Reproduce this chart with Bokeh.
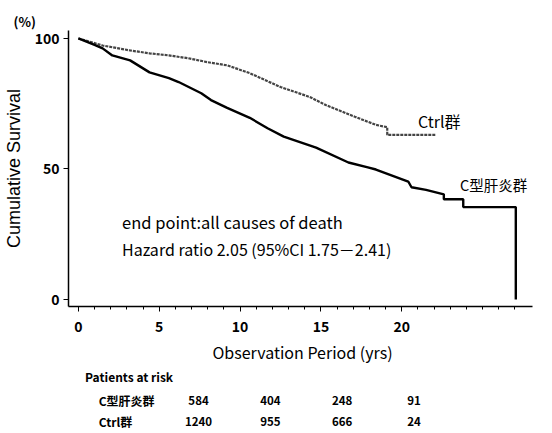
from bokeh.plotting import figure
from bokeh.layouts import column
from bokeh.models import FixedTicker, Label, Range1d, ColumnDataSource
from bokeh.core.properties import value
from bokeh.embed import file_html
from bokeh.resources import INLINE

# Kaplan-Meier readings (years, % surviving)
c_time = [0, 1.0, 1.5, 2.1, 3.2, 4.4, 5.6, 6.2, 7.6, 8.2, 9.2, 10.6, 11.7, 12.7,
          14.7, 16.7, 17.9, 18.4, 20.4, 20.6, 21.5, 22.6, 22.6, 23.8, 23.8, 27.05, 27.05]
c_surv = [100, 97.5, 96.2, 93.5, 91.6, 87.0, 84.8, 83.3, 79.0, 76.4, 73.4, 69.6, 65.6, 62.4,
          58.2, 52.5, 50.6, 49.8, 45.2, 43.0, 42.0, 40.3, 38.4, 38.4, 35.4, 35.4, 0]
ctrl_time = [0, 1.5, 3.2, 4.4, 5.6, 6.8, 8.0, 9.2, 10.6, 12.5, 14.3, 15.3, 17.1, 18.4,
             19.1, 19.1, 22.1]
ctrl_surv = [100, 97.3, 95.4, 94.3, 93.5, 92.4, 90.9, 89.7, 86.7, 81.4, 77.6, 74.5, 70.0, 66.9,
             66.0, 63.1, 63.1]

x_ticks = [0, 5, 10, 15, 20]
x_minor = list(range(0, 28))
y_ticks = [0, 50, 100]
risk_years = [5, 10, 15, 20]
risk_c = ["584", "404", "248", "91"]
risk_ctrl = ["1240", "955", "666", "24"]
group_c = "C型肝炎群"
group_ctrl = "Ctrl群"

FONT = "'Noto Sans CJK JP', 'Noto Sans', sans-serif"

p = figure(width=536, height=366, output_backend="svg", toolbar_location=None,
           x_range=Range1d(-0.61, 28.33), y_range=Range1d(-2.66, 103.04),
           min_border_left=60, min_border_right=0, min_border_top=30, min_border_bottom=58)
p.outline_line_color = None
p.xgrid.visible = False
p.ygrid.visible = False

p.title.text = "(%)"
p.title.align = "left"
p.title.offset = -55
p.title.standoff = 0
p.title.text_font = FONT
p.title.text_font_size = "13px"
p.title.text_font_style = "bold"
p.title.text_color = "black"

p.line(ctrl_time, ctrl_surv, line_color="#444444", line_width=2.2, line_dash="3 1")
p.line(c_time, c_surv, line_color="black", line_width=2.4)

xa = p.xaxis[0]
xa.ticker = FixedTicker(ticks=x_ticks, minor_ticks=x_minor)
xa.bounds = (-0.61, 28.09)
xa.axis_line_width = 1.5
xa.axis_line_color = "black"
xa.major_tick_line_color = "black"
xa.minor_tick_line_color = "black"
xa.major_tick_out = 5
xa.major_tick_in = 0
xa.minor_tick_out = 3
xa.minor_tick_in = 0
xa.major_label_text_font = FONT
xa.major_label_text_font_style = "bold"
xa.major_label_text_font_size = "14px"
xa.major_label_text_color = "black"
xa.major_label_standoff = 9
xa.axis_label = "Observation Period (yrs)"
xa.axis_label_text_font = FONT
xa.axis_label_text_font_style = "normal"
xa.axis_label_text_font_size = "16px"
xa.axis_label_text_color = "black"
xa.axis_label_standoff = 5

ya = p.yaxis[0]
ya.ticker = FixedTicker(ticks=y_ticks, minor_ticks=[])
ya.axis_line_width = 1.5
ya.axis_line_color = "black"
ya.major_tick_line_color = "black"
ya.major_tick_out = 5
ya.major_tick_in = 0
ya.major_label_text_font = FONT
ya.major_label_text_font_style = "bold"
ya.major_label_text_font_size = "14px"
ya.major_label_text_color = "black"
ya.major_label_standoff = 4
ya.axis_label = "Cumulative Survival"
ya.axis_label_text_font = "Liberation Sans"
ya.axis_label_text_font_style = "normal"
ya.axis_label_text_font_size = "18px"
ya.axis_label_text_color = "black"
ya.axis_label_standoff = 8


def lab(fig, x, y, text, size, style="normal", align="left", baseline="middle"):
    fig.add_layout(Label(x=x, y=y, text=text, text_font=FONT, text_font_size=size,
                         text_font_style=style, text_align=align, text_baseline=baseline,
                         text_color="black"))


lab(p, 21.0, 68.5, group_ctrl, "16px")
lab(p, 23.6, 44.0, group_c, "14.5px")
lab(p, 2.7, 29.7, "end point:all causes of death", "16.5px")
lab(p, 2.7, 19.3, "Hazard ratio  2.05  (95%CI 1.75－2.41)", "16px")

# Patients-at-risk table (same year scale, y in pixels from the top of this strip)
t = figure(width=536, height=64, output_backend="svg", toolbar_location=None,
           x_range=Range1d(-4.255, 28.33), y_range=Range1d(64, 0),
           x_axis_type=None, y_axis_type=None,
           min_border_left=0, min_border_right=0, min_border_top=0, min_border_bottom=0)
t.outline_line_color = None
t.xgrid.visible = False
t.ygrid.visible = False

lab(t, -3.1, 10, "Patients at risk", "12px", "bold")
lab(t, -2.15, 34, group_c, "12px", "bold")
lab(t, -2.15, 55, group_ctrl, "12px", "bold")
src = ColumnDataSource(dict(x=[yr - 0.2 for yr in risk_years], c=risk_c, ctrl=risk_ctrl,
                            y1=[34] * 4, y2=[55] * 4))
t.text(x="x", y="y1", text="c", source=src, text_font=value(FONT), text_font_size="11.5px",
       text_font_style="bold", text_align="center", text_baseline="middle", text_color="black")
t.text(x="x", y="y2", text="ctrl", source=src, text_font=value(FONT), text_font_size="11.5px",
       text_font_style="bold", text_align="center", text_baseline="middle", text_color="black")

layout = column(p, t, spacing=0)
open("out.html", "w").write(file_html(layout, INLINE))
